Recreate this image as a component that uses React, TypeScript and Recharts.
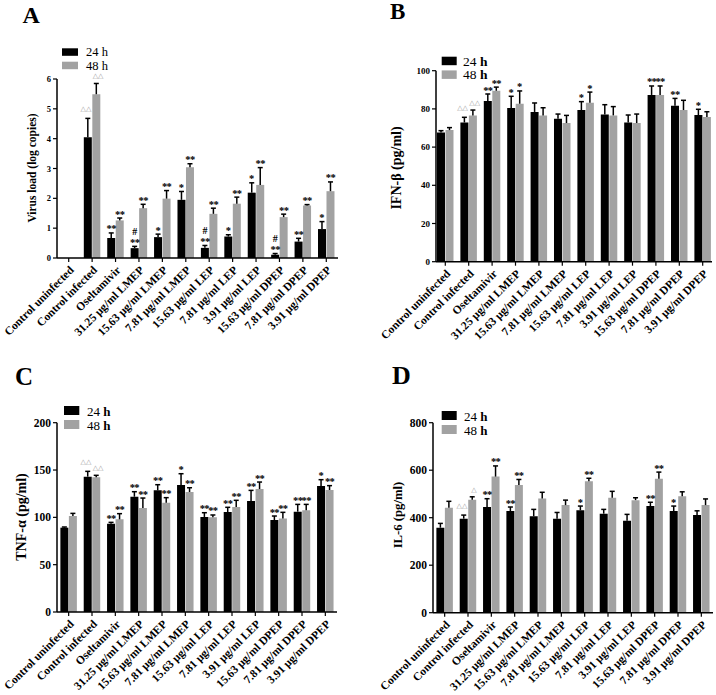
import React from 'react';
import { BarChart, Bar, XAxis, YAxis, ErrorBar, LabelList, Legend } from 'recharts';

// ---------- shared categories ----------
const categories = [
  'Control uninfected',
  'Control infected',
  'Oseltamivir',
  '31.25 μg/ml LMEP',
  '15.63 μg/ml LMEP',
  '7.81 μg/ml LMEP',
  '15.63 μg/ml LEP',
  '7.81 μg/ml LEP',
  '3.91 μg/ml LEP',
  '15.63 μg/ml DPEP',
  '7.81 μg/ml DPEP',
  '3.91 μg/ml DPEP',
];
const seriesNames = ['24 h', '48 h'];

// ---------- Panel A: virus load ----------
const virus24 = [0, 4.05, 0.67, 0.33, 0.7, 1.95, 0.34, 0.72, 2.19, 0.11, 0.55, 0.97];
const virus24Sd = [0, 0.63, 0.17, 0.06, 0.1, 0.28, 0.08, 0.06, 0.33, 0.04, 0.11, 0.25];
const virus48 = [0, 5.49, 1.26, 1.67, 1.99, 3.04, 1.48, 1.82, 2.45, 1.37, 1.76, 2.24];
const virus48Sd = [0, 0.36, 0.08, 0.13, 0.27, 0.12, 0.19, 0.22, 0.58, 0.1, 0.03, 0.31];
const virusAnn24 = ['', '△△', '**', '#\n**', '*', '*', '#\n**', '*', '*', '#\n**', '**', '*'];
const virusAnn48 = ['', '△△', '**', '**', '**', '**', '**', '**', '**', '**', '**', '**'];
const virusTicks = [0, 1, 2, 3, 4, 5, 6];

// ---------- Panel B: IFN-β ----------
const ifn24 = [67.7, 72.9, 84.1, 80.5, 78.4, 74.9, 79.4, 77.1, 72.9, 87.3, 81.7, 76.8];
const ifn24Sd = [0.9, 2.7, 3.7, 6.1, 4.7, 2.4, 4.4, 5.1, 3.9, 4.7, 3.8, 3.0];
const ifn48 = [68.9, 76.6, 89.5, 82.7, 76.6, 72.6, 83.2, 76.6, 72.6, 87.3, 79.4, 75.7];
const ifn48Sd = [1.3, 2.8, 1.9, 6.7, 4.0, 4.0, 5.6, 4.6, 4.7, 4.7, 5.1, 2.8];
const ifnAnn24 = ['', '△△', '**', '*', '', '', '*', '', '', '**', '**', '*'];
const ifnAnn48 = ['', '△△', '**', '*', '', '', '*', '', '', '**', '', ''];
const ifnTicks = [0, 20, 40, 60, 80, 100];

// ---------- Panel C: TNF-α ----------
const tnf24 = [89.1, 143, 93.3, 121.8, 128.5, 134.2, 100.4, 105.6, 117.3, 97.2, 106, 133.1];
const tnf24Sd = [0.7, 5.6, 1.4, 5.3, 6.0, 11.9, 4.5, 5.0, 11.2, 4.2, 7.7, 6.7];
const tnf48 = [101.4, 142.3, 97.9, 109.9, 115.5, 126.8, 100, 110.9, 129.9, 98.9, 107.4, 128.9];
const tnf48Sd = [2.8, 2.1, 6.0, 10.5, 5.3, 4.5, 2.5, 7.1, 7.4, 6.4, 6.3, 4.6];
const tnfAnn24 = ['', '△△', '**', '**', '**', '*', '**', '**', '**', '**', '**', '*'];
const tnfAnn48 = ['', '△△', '**', '**', '**', '**', '**', '**', '**', '**', '**', '**'];
const tnfTicks = [0, 50, 100, 150, 200];

// ---------- Panel D: IL-6 ----------
const il24 = [358, 396, 445, 428, 406, 396, 431, 417, 387, 449, 428, 411];
const il24Sd = [18, 15, 35, 17, 29, 26, 18, 18, 27, 16, 21, 18];
const il48 = [442, 476, 573, 538, 481, 453, 553, 484, 474, 564, 490, 453];
const il48Sd = [27, 12, 45, 23, 26, 21, 13, 27, 10, 28, 19, 26];
const ilAnn24 = ['', '△△', '**', '**', '', '', '*', '', '', '**', '*', ''];
const ilAnn48 = ['', '△', '**', '**', '', '', '**', '', '', '**', '', ''];
const ilTicks = [0, 200, 400, 600, 800];

const FONT = '"Liberation Serif", "Times New Roman", serif';
const BLACK = '#000000';
const GRAY = '#a2a2a2';

type Cfg = {
  letter: string;
  left: number; top: number; w: number; h: number;
  mt: number; mr: number; mb: number; yw: number; pad: number;
  v24: number[]; s24: number[]; v48: number[]; s48: number[];
  a24: string[]; a48: string[];
  ticks: number[];
  yLabel: string; ylx: number; yly: number; ylFs: number;
  tickFs: number;
  leg: { x: number; y: number; sw: number; sh: number; step: number; tx: number; fs: number; boldH: boolean };
  lx: number; ly: number; lfs: number;
};

const panels: Cfg[] = [
  {
    letter: 'A', left: 0, top: 0, w: 358, h: 345,
    mt: 79, mr: 20, mb: 7, yw: 57, pad: 0,
    v24: virus24, s24: virus24Sd, v48: virus48, s48: virus48Sd,
    a24: virusAnn24, a48: virusAnn48, ticks: virusTicks,
    yLabel: 'Virus load (log copies)', ylx: 31.5, yly: 168, ylFs: 11.5, tickFs: 8.5,
    leg: { x: 62, y: 48.3, sw: 16, sh: 7.5, step: 13.4, tx: 86, fs: 12.5, boldH: false },
    lx: 22.5, ly: 23.3, lfs: 24,
  },
  {
    letter: 'B', left: 358, top: 0, w: 358, h: 345,
    mt: 70.7, mr: 4, mb: 3.3, yw: 78, pad: -2.4,
    v24: ifn24, s24: ifn24Sd, v48: ifn48, s48: ifn48Sd,
    a24: ifnAnn24, a48: ifnAnn48, ticks: ifnTicks,
    yLabel: 'IFN-β (pg/ml)', ylx: 38.5, yly: 168, ylFs: 14, tickFs: 9,
    leg: { x: 83.7, y: 56.7, sw: 15, sh: 8.5, step: 13.7, tx: 105, fs: 13.5, boldH: true },
    lx: 32, ly: 18.5, lfs: 23,
  },
  {
    letter: 'C', left: 0, top: 345, w: 358, h: 350,
    mt: 77.7, mr: 21, mb: 3, yw: 57, pad: 0,
    v24: tnf24, s24: tnf24Sd, v48: tnf48, s48: tnf48Sd,
    a24: tnfAnn24, a48: tnfAnn48, ticks: tnfTicks,
    yLabel: 'TNF-α (pg/ml)', ylx: 21.7, yly: 172, ylFs: 14, tickFs: 11.5,
    leg: { x: 64, y: 61, sw: 15.3, sh: 9, step: 14, tx: 87, fs: 13, boldH: true },
    lx: 15, ly: 40, lfs: 25,
  },
  {
    letter: 'D', left: 358, top: 345, w: 358, h: 350,
    mt: 77.7, mr: 3, mb: 2.3, yw: 75, pad: 0,
    v24: il24, s24: il24Sd, v48: il48, s48: il48Sd,
    a24: ilAnn24, a48: ilAnn48, ticks: ilTicks,
    yLabel: 'IL-6 (pg/ml)', ylx: 40, yly: 170, ylFs: 12.7, tickFs: 11.5,
    leg: { x: 83.7, y: 66, sw: 15, sh: 9, step: 14, tx: 106, fs: 13, boldH: true },
    lx: 34, ly: 38.5, lfs: 26,
  },
];

const buildRows = (c: Cfg) =>
  categories.map((name, i) => ({
    name,
    i,
    v24: c.v24[i],
    v48: c.v48[i],
    e24: [0, c.s24[i]],
    e48: [0, c.s48[i]],
  }));

const renderAnn = (anns: string[], vals: number[], sds: number[], side: number) => (p: any) => {
  const idx = Number(p.value);
  const a = anns[idx];
  if (!a) return null;
  const vb = p.viewBox || {};
  const x = Number(vb.x ?? p.x);
  const y = Number(vb.y ?? p.y);
  const w = Number(vb.width ?? p.width);
  const h = Math.abs(Number(vb.height ?? p.height));
  const v = vals[idx];
  const per = v > 0 ? h / v : 0;
  const top = y - sds[idx] * per;
  const cx = x + w / 2;
  if (a.includes('△')) {
    return (
      <text
        x={cx + side * 1.8}
        y={top - 5 - (side < 0 ? 2 : 0)}
        textAnchor="middle"
        fontSize={7}
        fill="#9b9b9b"
        fontFamily="DejaVu Sans"
      >
        {a}
      </text>
    );
  }
  const lines = a.split('\n');
  return (
    <g>
      {lines.map((ln, k) => (
        <text
          key={k}
          x={cx}
          y={top - 0.5 - (lines.length - 1 - k) * 11}
          textAnchor="middle"
          fontSize={ln === '#' ? 10 : 10.5}
          letterSpacing={ln === '**' ? -0.6 : 0}
          fontWeight={700}
          fill="#000"
          fontFamily={FONT}
        >
          {ln}
        </text>
      ))}
    </g>
  );
};

const renderLegend = (c: Cfg) => (props: any) => {
  const payload = (props && props.payload) || [];
  const L = c.leg;
  return (
    <svg width={c.w} height={120} style={{ display: 'block', overflow: 'visible' }}>
      {payload.map((e: any, i: number) => {
        const label = String(e.value);
        const parts = label.split(' ');
        return (
          <g key={i}>
            <rect x={L.x} y={L.y + i * L.step} width={L.sw} height={L.sh} fill={e.color} />
            <text x={L.tx} y={L.y + i * L.step + L.sh + 0.5} fontSize={L.fs} fontFamily={FONT} fill="#000">
              {parts[0] + ' '}
              <tspan fontWeight={L.boldH ? 700 : 400}>{parts[1]}</tspan>
            </text>
          </g>
        );
      })}
    </svg>
  );
};

function Panel({ c }: { c: Cfg }) {
  const rows = buildRows(c);
  const dmax = c.ticks[c.ticks.length - 1];
  return (
    <div style={{ position: 'absolute', left: c.left, top: c.top, width: c.w, height: c.h }}>
      <BarChart
        width={c.w}
        height={c.h}
        data={rows}
        margin={{ top: c.mt, right: c.mr, bottom: c.mb, left: 0 }}
        barCategoryGap="14.5%"
        barGap={0.5}
      >
        <XAxis
          dataKey="name"
          interval={0}
          angle={-45}
          textAnchor="end"
          height={80}
          tickSize={4}
          tickMargin={3}
          padding={{ left: c.pad, right: c.pad }}
          axisLine={{ stroke: '#000', strokeWidth: 1.5 }}
          tickLine={{ stroke: '#000', strokeWidth: 1.2 }}
          tick={{ fontSize: 11.5, fontWeight: 700, fill: '#000', fontFamily: FONT }}
        />
        <YAxis
          width={c.yw}
          domain={[0, dmax]}
          ticks={c.ticks}
          allowDataOverflow
          tickSize={4}
          tickMargin={2}
          axisLine={{ stroke: '#000', strokeWidth: 1.5 }}
          tickLine={{ stroke: '#000', strokeWidth: 1.2 }}
          tick={{ fontSize: c.tickFs, fontWeight: 700, fill: '#000', fontFamily: FONT }}
          label={{
            value: c.yLabel,
            content: () => (
              <text
                x={c.ylx}
                y={c.yly}
                transform={`rotate(-90 ${c.ylx} ${c.yly})`}
                textAnchor="middle"
                dominantBaseline="central"
                fontFamily={FONT}
                fontWeight={700}
                fontSize={c.ylFs}
                fill="#000"
              >
                {c.yLabel}
              </text>
            ),
          }}
        />
        <Legend
          layout="vertical"
          align="center"
          verticalAlign="middle"
          wrapperStyle={{ left: 0, top: 0, width: c.w }}
          content={renderLegend(c)}
        />
        <Bar dataKey="v24" name={seriesNames[0]} fill={BLACK} isAnimationActive={false}>
          <ErrorBar dataKey="e24" direction="y" width={2.5} stroke="#000" strokeWidth={1.5} isAnimationActive={false} />
          <LabelList dataKey="i" content={renderAnn(c.a24, c.v24, c.s24, -1)} />
        </Bar>
        <Bar dataKey="v48" name={seriesNames[1]} fill={GRAY} isAnimationActive={false}>
          <ErrorBar dataKey="e48" direction="y" width={2.5} stroke="#000" strokeWidth={1.5} isAnimationActive={false} />
          <LabelList dataKey="i" content={renderAnn(c.a48, c.v48, c.s48, 1)} />
        </Bar>
      </BarChart>
      <svg
        width={c.w}
        height={60}
        style={{ position: 'absolute', left: 0, top: 0, pointerEvents: 'none' }}
      >
        <text x={c.lx} y={c.ly} fontSize={c.lfs} fontWeight={700} fontFamily={FONT} fill="#000">
          {c.letter}
        </text>
      </svg>
    </div>
  );
}

export default function App() {
  return (
    <div
      style={{
        position: 'absolute',
        left: 0,
        top: 0,
        width: 716,
        height: 695,
        background: '#fff',
        overflow: 'hidden',
      }}
    >
      <style>{`.recharts-errorBar line:nth-of-type(3){display:none;}`}</style>
      {panels.map((c) => (
        <Panel key={c.letter} c={c} />
      ))}
    </div>
  );
}
